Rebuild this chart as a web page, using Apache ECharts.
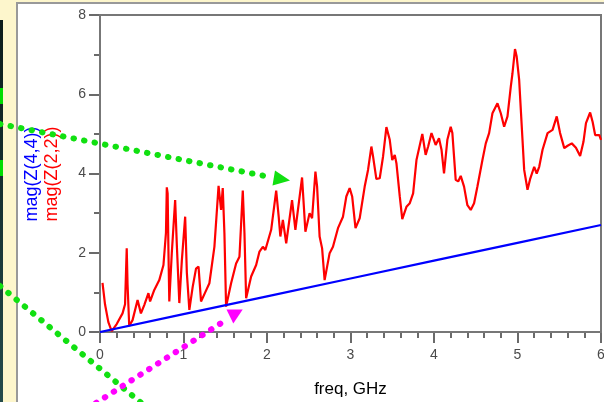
<!DOCTYPE html>
<html>
<head>
<meta charset="utf-8">
<script src="https://cdn.jsdelivr.net/npm/echarts@6/dist/echarts.min.js"></script>
<style>
html,body{margin:0;padding:0;background:#fdf6cc;overflow:hidden;}
#c{width:604px;height:402px;}
</style>
</head>
<body>
<div id="c"></div>
<script>
// ---- data ----
var xTicks = [0, 1, 2, 3, 4, 5, 6];
var yTicks = [0, 2, 4, 6, 8];
var freq44 = [0, 1, 2, 3, 4, 5, 6];
var mag44 = [0, 0.45, 0.9, 1.35, 1.8, 2.25, 2.7];
var freq22 = [0.03,0.06,0.1,0.14,0.2,0.27,0.3,0.32,0.33,0.35,0.39,0.45,0.47,0.49,0.53,0.58,0.6,0.65,0.71,0.76,0.79,0.8,0.81,0.82,0.83,0.86,0.9,0.92,0.95,0.98,1.02,1.04,1.07,1.11,1.15,1.18,1.21,1.26,1.31,1.37,1.42,1.45,1.47,1.49,1.51,1.57,1.63,1.67,1.71,1.73,1.75,1.81,1.87,1.91,1.95,1.98,2.05,2.11,2.14,2.16,2.19,2.23,2.3,2.34,2.42,2.46,2.51,2.54,2.58,2.6,2.63,2.66,2.69,2.75,2.79,2.85,2.91,2.95,2.99,3.02,3.06,3.11,3.17,3.21,3.25,3.27,3.31,3.35,3.39,3.43,3.47,3.5,3.53,3.55,3.59,3.62,3.67,3.71,3.75,3.79,3.86,3.9,3.93,3.97,4.02,4.06,4.09,4.12,4.16,4.2,4.22,4.26,4.29,4.32,4.36,4.4,4.44,4.48,4.52,4.58,4.62,4.66,4.7,4.76,4.8,4.84,4.88,4.92,4.94,4.97,4.99,5.02,5.04,5.06,5.08,5.12,5.15,5.2,5.23,5.26,5.3,5.36,5.42,5.47,5.51,5.56,5.6,5.65,5.7,5.75,5.79,5.82,5.87,5.9,5.93,5.98,6.0];
var mag22 = [1.24,0.7,0.25,0.02,0.2,0.47,0.7,2.11,1.2,0.15,0.3,0.81,0.85,0.47,0.68,0.98,0.77,1.06,1.31,1.69,2.5,3.65,3.5,2.0,0.77,2.0,3.33,2.2,0.73,1.8,2.91,1.5,0.56,1.14,1.6,1.65,0.77,1.0,1.23,2.15,3.69,3.08,3.63,2.5,0.64,1.23,1.73,1.9,3.57,2.5,0.85,1.4,1.69,2.03,2.15,2.07,2.58,3.57,2.91,2.41,2.83,2.24,3.33,2.58,3.9,2.53,3.0,2.87,4.05,3.67,2.41,2.11,1.31,1.99,2.15,2.62,2.91,3.42,3.63,3.42,2.62,2.87,3.67,4.09,4.68,4.43,3.86,3.88,4.43,5.17,4.85,4.34,4.47,4.26,3.42,2.85,3.16,3.25,3.5,4.34,5.0,4.47,4.68,5.02,4.72,4.89,4.6,4.0,4.85,5.18,5.02,3.84,3.8,3.94,3.67,3.2,3.08,3.25,3.67,4.34,4.76,5.02,5.52,5.77,5.52,5.18,5.44,6.2,6.53,7.14,6.95,6.36,5.6,4.85,4.09,3.59,3.85,4.17,4.0,4.17,4.6,5.02,5.1,5.44,5.02,4.64,4.7,4.76,4.65,4.44,4.8,5.27,5.54,5.3,4.97,4.97,4.85];
var legendNames = ['mag(Z(4,4))', 'mag(Z(2,2))'];
var xName = 'freq, GHz';

function pairs(xs, ys){ return xs.map(function(x,i){ return [x, ys[i]]; }); }

var chart = echarts.init(document.getElementById('c'), null, {renderer:'canvas'});
var FONT = '"Liberation Sans", Arial, sans-serif';
var axisCol = '#3a3a3a';
var option = {
  animation: false,
  backgroundColor: 'transparent',
  grid: {left: 100, right: 3, top: 15, bottom: 70, containLabel: false, outerBoundsMode: 'none',
         show: true, borderColor: '#777', borderWidth: 2, backgroundColor: '#fff', z: 1},
  xAxis: {
    type: 'value', min: xTicks[0], max: xTicks[xTicks.length-1], interval: 1,
    name: xName, nameLocation: 'middle', nameGap: 49,
    nameTextStyle: {fontFamily: FONT, fontSize: 17, color: '#000'},
    axisLine: {lineStyle: {color: axisCol, width: 2}},
    axisTick: {length: 11, lineStyle: {color: axisCol, width: 1.5}},
    minorTick: {show: true, splitNumber: 5, length: 6, lineStyle: {color: axisCol, width: 1.5}},
    axisLabel: {fontFamily: FONT, fontSize: 14, color: '#4a4a4a', margin: 16},
    splitLine: {show: true, lineStyle: {color: '#c8c8c8', width: 1.5}}
  },
  yAxis: {
    type: 'value', min: yTicks[0], max: yTicks[yTicks.length-1], interval: 2,
    axisLine: {show: true, lineStyle: {color: axisCol, width: 2}},
    axisTick: {show: true, length: 11, lineStyle: {color: axisCol, width: 1.5}},
    minorTick: {show: true, splitNumber: 2, length: 6, lineStyle: {color: axisCol, width: 1.5}},
    axisLabel: {fontFamily: FONT, fontSize: 14, color: '#4a4a4a', margin: 14},
    splitLine: {show: true, lineStyle: {color: '#c8c8c8', width: 1.5}}
  },
  series: [
    {name: legendNames[1], type: 'line', data: pairs(freq22, mag22), showSymbol: false, symbol: 'none',
     lineStyle: {color: '#ff0000', width: 2.2}, z: 3},
    {name: legendNames[0], type: 'line', data: pairs(freq44, mag44), showSymbol: false, symbol: 'none',
     lineStyle: {color: '#0000ff', width: 2.2}, z: 4}
  ],
  graphic: {elements: [
    {type: 'rect', z: -10, shape: {x: 17, y: 3, width: 600, height: 410}, style: {fill: '#fff', stroke: '#999', lineWidth: 2}},
    {type: 'rect', z: -9, shape: {x: 0, y: 20, width: 3, height: 390},
     style: {fill: new echarts.graphic.LinearGradient(0,0,0,1,[{offset:0,color:'#0c1c1a'},{offset:1,color:'#254c4c'}])}},
    {type: 'rect', z: -8, shape: {x: 0, y: 88, width: 3, height: 16}, style: {fill: '#00dd00'}},
    {type: 'rect', z: -8, shape: {x: 0, y: 160, width: 3, height: 16}, style: {fill: '#00dd00'}},
    {type: 'text', z: 50, x: 32, y: 174, rotation: Math.PI/2,
     style: {text: legendNames[0], fill: '#0000ff', font: '18px ' + FONT, align: 'center', verticalAlign: 'middle'}},
    {type: 'text', z: 50, x: 52, y: 174, rotation: Math.PI/2,
     style: {text: legendNames[1], fill: '#ff0000', font: '18px ' + FONT, align: 'center', verticalAlign: 'middle'}},
    {type: 'line', z: 100, shape: {x1: 0, y1: 124, x2: 270, y2: 177},
     style: {stroke: '#11e011', lineWidth: 6, lineDash: [0.5, 10.2], lineCap: 'round'}},
    {type: 'polygon', z: 100, shape: {points: [[275,170.5],[290,180.5],[272.5,185.5]]}, style: {fill: '#11e011'}},
    {type: 'line', z: 100, shape: {x1: 0, y1: 286, x2: 145, y2: 406},
     style: {stroke: '#11e011', lineWidth: 6, lineDash: [0.5, 10.2], lineCap: 'round'}},
    {type: 'line', z: 100, shape: {x1: 96, y1: 403, x2: 226, y2: 320},
     style: {stroke: '#ff00ff', lineWidth: 6, lineDash: [0.5, 10], lineCap: 'round'}},
    {type: 'polygon', z: 100, shape: {points: [[226.5,309.5],[242.7,309.5],[233.3,323.5]]}, style: {fill: '#ff00ff'}}
  ]}
};
chart.setOption(option);
</script>
</body>
</html>
